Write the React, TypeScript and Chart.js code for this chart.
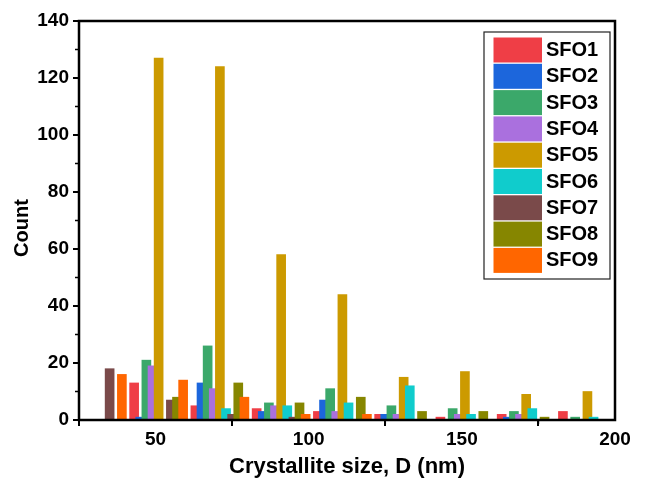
import React, { useEffect, useRef } from 'react';
import { Chart, registerables } from 'chart.js';

Chart.register(...registerables);

// Bin centres (nm) of the grouped histogram
const binCenters = [31, 51, 71, 91, 111, 131, 151, 171, 191];
const seriesNames = ['SFO1', 'SFO2', 'SFO3', 'SFO4', 'SFO5', 'SFO6', 'SFO7', 'SFO8', 'SFO9'];
const sfo1 = [0, 13, 5, 4, 3, 2, 1, 2, 3];
const sfo2 = [0, 1, 13, 3, 7, 2, 0, 1, 0];
const sfo3 = [0, 21, 26, 6, 11, 5, 4, 3, 1];
const sfo4 = [0, 19, 11, 5, 3, 2, 2, 2, 0];
const sfo5 = [0, 127, 124, 58, 44, 15, 17, 9, 10];
const sfo6 = [0, 0, 4, 5, 6, 12, 2, 4, 1];
const sfo7 = [18, 7, 2, 1, 0, 0, 0, 0, 0];
const sfo8 = [0, 8, 13, 6, 8, 3, 3, 1, 0];
const sfo9 = [16, 14, 8, 2, 2, 0, 0, 0, 0];
const seriesValues = [sfo1, sfo2, sfo3, sfo4, sfo5, sfo6, sfo7, sfo8, sfo9];
const seriesColors = ['#EF3E46', '#1C66DC', '#3BA86A', '#AA70DE', '#CC9A00', '#10CCCC', '#7A4A4A', '#868600', '#FF6600'];
const xMajorTicks = [50, 100, 150, 200];
const xMinorTicks = [75, 125, 175];
const yMinorTicks = [10, 30, 50, 70, 90, 110, 130];
const yTitle = 'Count';
const xTitle = 'Crystallite size, D (nm)';

const FONT = '"Liberation Sans", Arial, sans-serif';

const framePlugin = {
  id: 'frameAndLegend',
  afterDraw(chart: any) {
    const { ctx, chartArea: ca } = chart;
    const xs = chart.scales.x;
    const ys = chart.scales.y;
    ctx.save();
    ctx.strokeStyle = '#000';
    ctx.lineWidth = 2.5;
    ctx.strokeRect(ca.left, ca.top, ca.right - ca.left, ca.bottom - ca.top);
    ctx.lineWidth = 1.5;
    ctx.beginPath();
    xMinorTicks.forEach((v) => {
      const px = xs.getPixelForValue(v);
      ctx.moveTo(px, ca.bottom);
      ctx.lineTo(px, ca.bottom + 4);
    });
    yMinorTicks.forEach((v) => {
      const py = ys.getPixelForValue(v);
      ctx.moveTo(ca.left - 4, py);
      ctx.lineTo(ca.left, py);
    });
    ctx.stroke();

    // y-axis title
    ctx.save();
    ctx.translate(22, 228);
    ctx.rotate(-Math.PI / 2);
    ctx.font = `bold 20px ${FONT}`;
    ctx.fillStyle = '#000';
    ctx.textAlign = 'center';
    ctx.textBaseline = 'middle';
    ctx.fillText(yTitle, 0, 0);
    ctx.restore();

    // legend box
    const bx = 484, by = 32, bw = 126, bh = 247;
    ctx.fillStyle = '#fff';
    ctx.fillRect(bx, by, bw, bh);
    ctx.strokeStyle = '#222';
    ctx.lineWidth = 1.2;
    ctx.strokeRect(bx, by, bw, bh);
    ctx.font = `bold 20px ${FONT}`;
    ctx.textBaseline = 'middle';
    ctx.textAlign = 'left';
    seriesNames.forEach((name, i) => {
      const y0 = 37.5 + i * 26.3;
      ctx.fillStyle = seriesColors[i];
      ctx.fillRect(493.5, y0, 48.5, 25);
      ctx.fillStyle = '#000';
      ctx.fillText(name, 546, y0 + 13);
    });
    ctx.restore();
  },
};

export default function App() {
  const canvasRef = useRef<HTMLCanvasElement | null>(null);

  useEffect(() => {
    if (!canvasRef.current) return;
    const datasets = seriesValues.map((vals, i) => ({
      label: seriesNames[i],
      data: vals.map((v, k) => ({ x: binCenters[k] + (i - 4) * 2, y: v })),
      backgroundColor: seriesColors[i],
      borderWidth: 0,
      barThickness: 9,
      grouped: false,
      order: 9 - i,
    }));
    const chart = new Chart(canvasRef.current, {
      type: 'bar',
      data: { datasets },
      plugins: [framePlugin],
      options: {
        animation: false,
        responsive: false,
        devicePixelRatio: 1,
        layout: { padding: { left: 0, right: 30, top: 21, bottom: 0 } },
        plugins: { legend: { display: false }, tooltip: { enabled: false } },
        scales: {
          x: {
            type: 'linear',
            min: 25,
            max: 200,
            offset: false,
            afterBuildTicks: (scale: any) => {
              scale.ticks = xMajorTicks.map((v) => ({ value: v }));
            },
            afterFit: (scale: any) => {
              scale.height = 64;
            },
            grid: { display: true, drawOnChartArea: false, drawTicks: true, tickLength: 6, color: '#000', lineWidth: 2 },
            border: { display: false },
            ticks: { color: '#000', font: { family: FONT, size: 19, weight: 'bold' }, padding: 2, maxRotation: 0 },
            title: {
              display: true,
              text: xTitle,
              color: '#000',
              font: { family: FONT, size: 22, weight: 'bold' },
              padding: { top: 0, bottom: 4 },
            },
          },
          y: {
            min: 0,
            max: 140,
            ticks: { stepSize: 20, color: '#000', font: { family: FONT, size: 19, weight: 'bold' }, padding: 4 },
            afterFit: (scale: any) => {
              scale.width = 79;
            },
            grid: { display: true, drawOnChartArea: false, drawTicks: true, tickLength: 6, color: '#000', lineWidth: 2 },
            border: { display: false },
            title: { display: false },
          },
        },
      } as any,
    });
    return () => chart.destroy();
  }, []);

  return (
    <div style={{ position: 'fixed', left: 0, top: 0, width: 645, height: 484, background: '#fff' }}>
      <canvas ref={canvasRef} width={645} height={484} style={{ width: 645, height: 484, display: 'block' }} />
    </div>
  );
}
